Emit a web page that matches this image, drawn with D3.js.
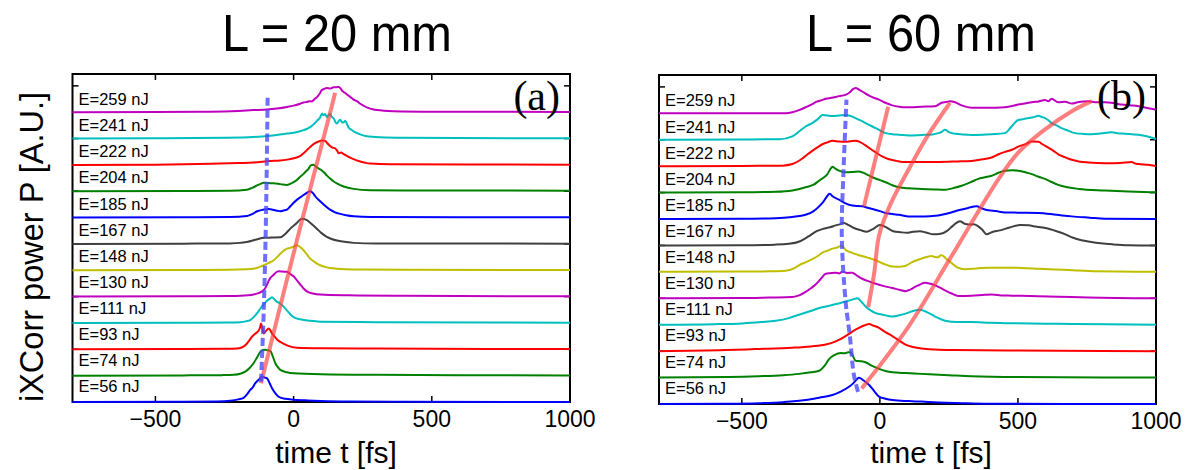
<!DOCTYPE html>
<html>
<head>
<meta charset="utf-8">
<script src="https://cdn.jsdelivr.net/npm/d3@7"></script>
<style>
  html, body { margin: 0; padding: 0; background: #fff; }
  svg { display: block; }
  text { font-family: "Liberation Sans", Arial, Helvetica, sans-serif; fill: #000; }
</style>
</head>
<body>
<svg id="chart" width="1194" height="470"></svg>
<script>
// Pulse energies, bottom trace first
const energies = [56, 74, 93, 111, 130, 148, 167, 185, 204, 222, 241, 259];
// MATLAB-style colour cycle b, g, r, c, m, y, k
const traceColors = ["#0000ff", "#008000", "#ff0000", "#00bfbf", "#bf00bf", "#bfbf00", "#404040",
                     "#0000ff", "#008000", "#ff0000", "#00bfbf", "#bf00bf"];

const xTicks = [-500, 0, 500, 1000];
const xTickLabels = ["\u2212500", "0", "500", "1000"];
const yTicks = [0, 2, 4, 6, 8, 10, 12];
const panelTitles = ["L = 20 mm", "L = 60 mm"];
const panelTags = ["(a)", "(b)"];

// Cross-correlation traces [time fs, normalised power], L = 20 mm
const tracesA = [
  [[-800,0],[-400,0.01],[-280,0.02],[-229,0.05],[-200,0.1],[-181,0.16],[-168,0.3],[-157,0.46],[-148,0.55],[-139,0.71],[-126,0.85],[-114,0.96],[-105,0.93],[-96,0.9],[-87,0.72],[-78,0.52],[-66,0.33],[-54,0.2],[-30,0.12],[0,0.09],[50,0.06],[100,0.04],[200,0.02],[400,0.01],[1000,0]],
  [[-800,0],[-400,0.01],[-260,0.02],[-217,0.03],[-190,0.08],[-175,0.15],[-160,0.28],[-145,0.47],[-132,0.7],[-120,0.91],[-111,0.97],[-102,0.98],[-93,0.96],[-84,0.94],[-75,0.72],[-66,0.47],[-57,0.32],[-48,0.22],[-24,0.13],[0,0.09],[100,0.05],[300,0.03],[600,0.02],[1000,0.01]],
  [[-800,0],[-400,0.01],[-250,0.02],[-205,0.03],[-188,0.07],[-175,0.15],[-163,0.3],[-151,0.47],[-138,0.6],[-126,0.72],[-121,0.85],[-118,0.98],[-113,0.8],[-108,0.6],[-100,0.7],[-90,0.79],[-84,0.72],[-78,0.6],[-70,0.5],[-60,0.37],[-42,0.24],[-24,0.15],[12,0.06],[100,0.04],[300,0.03],[1000,0.01]],
  [[-800,0],[-400,0.01],[-230,0.02],[-193,0.03],[-170,0.07],[-157,0.11],[-145,0.22],[-132,0.37],[-120,0.55],[-108,0.71],[-95,0.85],[-85,0.93],[-78,0.98],[-70,0.9],[-62,0.82],[-54,0.77],[-45,0.7],[-36,0.62],[-24,0.47],[-12,0.33],[0,0.22],[24,0.14],[60,0.08],[96,0.05],[300,0.03],[1000,0.01]],
  [[-800,0],[-400,0.01],[-230,0.02],[-193,0.03],[-145,0.08],[-125,0.14],[-114,0.2],[-104,0.3],[-96,0.46],[-90,0.6],[-84,0.71],[-75,0.8],[-66,0.9],[-54,0.96],[-40,0.95],[-24,0.94],[-12,0.86],[0,0.77],[12,0.62],[24,0.46],[36,0.31],[48,0.2],[70,0.12],[96,0.08],[200,0.05],[400,0.03],[1000,0.01]],
  [[-800,0],[-400,0.01],[-200,0.03],[-145,0.06],[-125,0.12],[-108,0.19],[-90,0.28],[-72,0.38],[-60,0.5],[-48,0.63],[-36,0.74],[-24,0.82],[-12,0.85],[0,0.9],[12,0.95],[24,0.88],[36,0.76],[48,0.6],[60,0.44],[78,0.3],[96,0.19],[120,0.11],[157,0.06],[217,0.03],[400,0.02],[1000,0.01]],
  [[-800,0],[-400,0.01],[-230,0.02],[-193,0.04],[-165,0.08],[-145,0.14],[-125,0.2],[-108,0.23],[-80,0.24],[-48,0.25],[-30,0.38],[-12,0.58],[10,0.78],[30,0.96],[40,0.94],[48,0.9],[66,0.75],[84,0.58],[100,0.42],[120,0.27],[140,0.18],[157,0.13],[190,0.07],[217,0.04],[300,0.02],[1000,0.01]],
  [[-800,0],[-400,0.01],[-230,0.02],[-169,0.06],[-150,0.13],[-132,0.24],[-110,0.3],[-90,0.33],[-75,0.3],[-60,0.26],[-48,0.24],[-36,0.27],[-24,0.3],[-10,0.45],[0,0.56],[15,0.7],[30,0.81],[45,0.92],[60,1.0],[70,0.93],[78,0.81],[96,0.62],[114,0.45],[132,0.3],[150,0.2],[169,0.14],[190,0.09],[217,0.05],[280,0.02],[1000,0.01]],
  [[-800,0],[-400,0.01],[-230,0.02],[-169,0.06],[-150,0.13],[-132,0.22],[-120,0.28],[-108,0.32],[-90,0.31],[-72,0.3],[-48,0.27],[-24,0.24],[-5,0.32],[12,0.43],[24,0.55],[36,0.66],[45,0.76],[54,0.85],[62,0.98],[72,1.01],[82,0.92],[90,0.87],[102,0.79],[110,0.72],[120,0.6],[132,0.48],[145,0.37],[160,0.28],[181,0.18],[217,0.09],[277,0.04],[400,0.03],[1000,0.02]],
  [[-800,0],[-500,0.01],[-300,0.04],[-200,0.07],[-145,0.09],[-84,0.15],[-50,0.17],[-24,0.2],[0,0.25],[24,0.34],[36,0.44],[48,0.56],[60,0.68],[72,0.79],[84,0.86],[96,0.91],[105,0.93],[114,0.91],[122,0.82],[132,0.72],[140,0.66],[150,0.63],[157,0.55],[163,0.44],[172,0.47],[181,0.41],[190,0.36],[199,0.3],[217,0.22],[241,0.13],[260,0.08],[277,0.05],[350,0.02],[1000,0.01]],
  [[-800,0],[-500,0.01],[-250,0.03],[-145,0.06],[-84,0.11],[-24,0.19],[10,0.24],[36,0.32],[54,0.4],[66,0.48],[76,0.58],[84,0.67],[96,0.8],[103,0.95],[108,0.88],[114,0.93],[120,0.82],[126,0.88],[132,0.93],[138,0.82],[145,0.77],[150,0.65],[157,0.57],[163,0.66],[169,0.71],[175,0.62],[181,0.61],[187,0.68],[193,0.55],[199,0.42],[208,0.34],[217,0.27],[241,0.16],[265,0.09],[313,0.05],[400,0.03],[1000,0.01]],
  [[-800,0],[-500,0.01],[-300,0.02],[-200,0.05],[-145,0.08],[-96,0.1],[-60,0.14],[-24,0.2],[0,0.25],[24,0.32],[36,0.37],[48,0.39],[60,0.42],[66,0.41],[76,0.5],[84,0.57],[94,0.7],[102,0.84],[110,0.88],[120,0.92],[132,0.9],[145,0.95],[155,0.95],[163,0.96],[170,0.9],[175,0.82],[185,0.74],[193,0.67],[205,0.58],[217,0.48],[229,0.42],[241,0.32],[253,0.25],[265,0.18],[283,0.12],[301,0.08],[361,0.04],[500,0.02],[1000,0.01]]
];

// Cross-correlation traces [time fs, normalised power], L = 60 mm
const tracesB = [
  [[-800,0],[-550,0.01],[-438,0.03],[-350,0.07],[-269,0.15],[-220,0.24],[-172,0.34],[-140,0.48],[-112,0.65],[-95,0.8],[-82,0.95],[-76,0.99],[-60,0.9],[-39,0.72],[-20,0.48],[-3,0.28],[20,0.2],[45,0.15],[105,0.11],[150,0.09],[212,0.06],[300,0.03],[393,0.01],[1000,0]],
  [[-800,0],[-550,0.02],[-438,0.05],[-350,0.09],[-293,0.14],[-250,0.2],[-220,0.26],[-200,0.45],[-184,0.7],[-165,0.85],[-142,0.93],[-125,0.92],[-115,0.96],[-106,0.96],[-97,0.8],[-88,0.64],[-70,0.62],[-52,0.58],[-30,0.45],[-3,0.33],[20,0.25],[45,0.2],[93,0.17],[150,0.14],[250,0.09],[332,0.05],[500,0.02],[1000,0]],
  [[-800,0],[-559,0.04],[-450,0.08],[-317,0.13],[-250,0.18],[-196,0.25],[-160,0.37],[-124,0.57],[-100,0.74],[-76,0.88],[-55,0.98],[-39,1.03],[-25,0.97],[-3,0.88],[20,0.72],[45,0.57],[70,0.4],[91,0.26],[120,0.16],[151,0.1],[200,0.06],[272,0.04],[500,0.02],[1000,0]],
  [[-800,0],[-600,0.02],[-498,0.05],[-430,0.1],[-377,0.15],[-330,0.25],[-293,0.38],[-250,0.52],[-220,0.63],[-190,0.7],[-172,0.75],[-150,0.8],[-124,0.88],[-100,0.95],[-82,1.0],[-68,0.88],[-52,0.69],[-35,0.55],[-15,0.44],[10,0.38],[45,0.31],[70,0.36],[93,0.42],[120,0.52],[145,0.57],[165,0.5],[188,0.38],[212,0.25],[236,0.15],[280,0.1],[332,0.1],[400,0.07],[453,0.06],[600,0.04],[695,0.03],[1000,0]],
  [[-800,0],[-500,0.01],[-400,0.03],[-317,0.05],[-290,0.12],[-269,0.24],[-250,0.38],[-233,0.52],[-215,0.72],[-196,0.93],[-180,0.95],[-160,0.97],[-148,0.94],[-136,1.0],[-118,0.96],[-100,0.97],[-82,0.85],[-64,0.74],[-40,0.64],[-15,0.55],[15,0.46],[45,0.39],[70,0.32],[93,0.27],[110,0.33],[127,0.43],[145,0.52],[163,0.59],[180,0.56],[200,0.49],[218,0.4],[236,0.3],[260,0.18],[284,0.09],[332,0.1],[380,0.13],[405,0.14],[440,0.11],[477,0.1],[574,0.08],[650,0.06],[755,0.03],[1000,0]],
  [[-800,0],[-500,0.01],[-400,0.02],[-341,0.04],[-310,0.14],[-293,0.25],[-270,0.36],[-245,0.48],[-225,0.6],[-208,0.73],[-190,0.8],[-172,0.88],[-155,0.92],[-142,0.98],[-130,0.9],[-124,0.83],[-100,0.72],[-76,0.63],[-45,0.54],[-15,0.44],[15,0.3],[45,0.2],[70,0.19],[91,0.22],[115,0.36],[139,0.46],[165,0.55],[188,0.6],[200,0.56],[212,0.55],[218,0.62],[224,0.63],[240,0.5],[260,0.33],[280,0.17],[308,0.1],[350,0.13],[393,0.16],[450,0.16],[513,0.15],[574,0.12],[634,0.09],[700,0.06],[755,0.03],[1000,0]],
  [[-800,0],[-500,0.01],[-380,0.03],[-330,0.06],[-289,0.16],[-260,0.33],[-229,0.54],[-205,0.63],[-181,0.69],[-160,0.76],[-140,0.82],[-133,0.86],[-115,0.78],[-96,0.67],[-70,0.58],[-48,0.52],[-25,0.62],[0,0.77],[20,0.7],[48,0.54],[75,0.5],[97,0.48],[120,0.52],[145,0.54],[170,0.48],[193,0.42],[220,0.44],[242,0.54],[265,0.75],[290,0.92],[305,0.83],[315,0.8],[326,0.79],[340,0.8],[355,0.73],[370,0.6],[387,0.42],[405,0.5],[435,0.57],[470,0.68],[507,0.77],[540,0.76],[555,0.73],[600,0.66],[640,0.54],[670,0.43],[700,0.29],[730,0.2],[761,0.14],[800,0.08],[845,0.04],[900,0.01],[1000,0]],
  [[-800,0],[-500,0.01],[-377,0.03],[-317,0.08],[-269,0.16],[-240,0.3],[-220,0.48],[-205,0.65],[-196,0.79],[-182,0.96],[-170,0.85],[-148,0.73],[-130,0.62],[-112,0.54],[-90,0.5],[-64,0.48],[-45,0.43],[-27,0.38],[0,0.3],[21,0.23],[45,0.19],[69,0.16],[105,0.1],[163,0.1],[200,0.12],[224,0.16],[255,0.24],[284,0.33],[320,0.42],[350,0.48],[370,0.4],[393,0.33],[420,0.3],[453,0.25],[500,0.24],[574,0.23],[640,0.16],[695,0.1],[760,0.05],[815,0.01],[1000,0]],
  [[-800,0],[-500,0.01],[-377,0.03],[-317,0.08],[-269,0.2],[-240,0.3],[-220,0.45],[-200,0.6],[-190,0.7],[-180,0.88],[-172,0.98],[-160,0.9],[-148,0.83],[-124,0.77],[-100,0.78],[-76,0.8],[-50,0.7],[-27,0.58],[0,0.47],[21,0.39],[45,0.28],[69,0.2],[105,0.16],[151,0.14],[200,0.12],[236,0.11],[270,0.18],[296,0.26],[330,0.4],[356,0.52],[380,0.58],[405,0.64],[430,0.75],[453,0.83],[480,0.85],[501,0.83],[530,0.76],[550,0.7],[575,0.6],[598,0.52],[620,0.41],[646,0.29],[680,0.2],[719,0.14],[815,0.08],[900,0.04],[1000,0.01]],
  [[-800,0],[-500,0.01],[-353,0.02],[-317,0.08],[-281,0.29],[-263,0.44],[-245,0.58],[-225,0.72],[-208,0.83],[-190,0.9],[-172,0.96],[-148,0.93],[-124,0.92],[-106,0.94],[-88,0.96],[-70,0.9],[-52,0.79],[-35,0.66],[-15,0.52],[10,0.36],[33,0.26],[60,0.2],[81,0.16],[150,0.16],[212,0.16],[280,0.18],[332,0.2],[370,0.26],[405,0.33],[430,0.45],[453,0.54],[480,0.63],[501,0.74],[530,0.84],[550,0.93],[574,0.92],[590,0.82],[610,0.7],[630,0.57],[646,0.45],[670,0.34],[695,0.24],[720,0.18],[755,0.14],[815,0.11],[870,0.12],[912,0.16],[925,0.1],[936,0.08],[970,0.05],[1000,0.01]],
  [[-800,0],[-500,0.01],[-365,0.02],[-317,0.13],[-293,0.31],[-269,0.5],[-245,0.63],[-225,0.78],[-208,0.94],[-190,0.92],[-172,0.9],[-148,0.92],[-124,0.94],[-106,0.9],[-88,0.82],[-70,0.73],[-52,0.63],[-33,0.53],[-15,0.44],[21,0.25],[45,0.21],[69,0.19],[105,0.16],[151,0.18],[190,0.2],[212,0.25],[224,0.3],[236,0.38],[248,0.3],[260,0.25],[300,0.2],[332,0.18],[370,0.19],[405,0.21],[453,0.25],[477,0.5],[501,0.75],[520,0.78],[538,0.82],[555,0.85],[574,0.91],[586,0.86],[598,0.82],[610,0.74],[622,0.63],[640,0.54],[658,0.44],[680,0.35],[707,0.25],[740,0.22],[767,0.21],[800,0.24],[839,0.28],[860,0.25],[888,0.23],[936,0.19],[970,0.12],[1000,0.03]],
  [[-800,0],[-500,0],[-341,0],[-317,0.04],[-293,0.12],[-269,0.23],[-245,0.35],[-233,0.42],[-210,0.5],[-196,0.55],[-170,0.6],[-148,0.65],[-125,0.7],[-112,0.77],[-95,0.93],[-88,0.96],[-76,0.9],[-60,0.8],[-39,0.67],[-20,0.58],[-3,0.52],[20,0.4],[45,0.3],[70,0.25],[93,0.23],[151,0.25],[200,0.27],[224,0.4],[240,0.43],[254,0.46],[272,0.42],[296,0.3],[332,0.21],[393,0.21],[453,0.23],[501,0.33],[530,0.38],[550,0.42],[575,0.45],[598,0.5],[610,0.46],[622,0.55],[646,0.42],[670,0.44],[695,0.37],[720,0.43],[755,0.46],[785,0.42],[815,0.42],[850,0.38],[876,0.33],[910,0.3],[936,0.27],[960,0.22],[984,0.17],[1000,0.14]]
];

// Guide lines [time fs, trace level]
const dashedA = [[-118,0.77],[-108,3.5],[-100,7],[-94,11.55]];
const ridgesA = [
  [[-118,0.71],[18,6.39],[140,11.3],[150,11.74]]
];
const dashedB = [[-79,0.46],[-94,1.09],[-109,2.6],[-124,3.86],[-138,6.37],[-132,8.75],[-121,11.52]];
const ridgesB = [
  [[-58,7.47],[30,11.25]],
  [[-42,3.67],[-20,5.0],[-3,6.38],[40,7.6],[100,8.8],[170,10.1],[254,11.4]],
  [[-66,0.59],[105,2.95],[254,5.5],[429,8.5],[501,9.51],[598,10.39],[695,11.08],[767,11.46]]
];

const svg = d3.select("#chart");

const panels = [
  { left: 72.5, right: 570, top: 74, bottom: 402, traces: tracesA, dashed: dashedA, ridges: ridgesA,
    title: panelTitles[0], tag: panelTags[0], titleX: 337, xLabelX: 336, showYLabel: true },
  { left: 659, right: 1156, top: 75, bottom: 404, traces: tracesB, dashed: dashedB, ridges: ridgesB,
    title: panelTitles[1], tag: panelTags[1], titleX: 921, xLabelX: 931, showYLabel: false }
];

panels.forEach(p => {
  const x = d3.scaleLinear().domain([-800, 1000]).range([p.left, p.right]);
  const y = d3.scaleLinear().domain([0, 12.45]).range([p.bottom, p.top]);
  const g = svg.append("g");

  // Title
  g.append("text")
    .attr("x", p.titleX).attr("y", 51)
    .attr("text-anchor", "middle")
    .style("font-size", "52px")
    .attr("textLength", 230).attr("lengthAdjust", "spacingAndGlyphs")
    .text(p.title);

  // Frame
  g.append("rect")
    .attr("x", p.left).attr("y", p.top)
    .attr("width", p.right - p.left).attr("height", p.bottom - p.top)
    .attr("fill", "none").attr("stroke", "#000").attr("stroke-width", 2);

  // Inward ticks on all four sides
  const tickLen = 6;
  xTicks.forEach(t => {
    g.append("line").attr("x1", x(t)).attr("x2", x(t))
      .attr("y1", p.bottom).attr("y2", p.bottom - tickLen)
      .attr("stroke", "#000").attr("stroke-width", 1.5);
    g.append("line").attr("x1", x(t)).attr("x2", x(t))
      .attr("y1", p.top).attr("y2", p.top + tickLen)
      .attr("stroke", "#000").attr("stroke-width", 1.5);
  });
  yTicks.forEach(v => {
    g.append("line").attr("x1", p.left).attr("x2", p.left + tickLen)
      .attr("y1", y(v)).attr("y2", y(v))
      .attr("stroke", "#000").attr("stroke-width", 1.5);
    g.append("line").attr("x1", p.right).attr("x2", p.right - tickLen)
      .attr("y1", y(v)).attr("y2", y(v))
      .attr("stroke", "#000").attr("stroke-width", 1.5);
  });

  // Tick labels
  xTicks.forEach((t, i) => {
    g.append("text")
      .attr("x", x(t)).attr("y", p.bottom + 25)
      .attr("text-anchor", "middle")
      .style("font-size", "23px")
      .text(xTickLabels[i]);
  });

  // Axis labels
  g.append("text")
    .attr("x", p.xLabelX).attr("y", 463)
    .attr("text-anchor", "middle")
    .style("font-size", "30px")
    .text("time t [fs]");
  if (p.showYLabel) {
    g.append("text")
      .attr("transform", "translate(43,247) rotate(-90)")
      .attr("text-anchor", "middle")
      .style("font-size", "32.5px")
      .text("iXCorr power P [A.U.]");
  }

  // Stacked traces, each offset by one level
  p.traces.forEach((tr, i) => {
    const line = d3.line()
      .x(d => x(d[0]))
      .y(d => y(i + d[1]))
      .curve(d3.curveMonotoneX);
    g.append("path")
      .datum(tr)
      .attr("d", line)
      .attr("fill", "none")
      .attr("stroke", traceColors[i])
      .attr("stroke-width", 2)
      .attr("stroke-linejoin", "round");
  });

  // Energy labels
  energies.forEach((e, i) => {
    g.append("text")
      .attr("x", p.left + 6)
      .attr("y", y(0.39 + i * 0.988))
      .style("font-size", "16.5px")
      .text("E=" + e + " nJ");
  });

  // Guide curves
  const guide = d3.line().x(d => x(d[0])).y(d => y(d[1])).curve(d3.curveCatmullRom);
  p.ridges.forEach(r => {
    g.append("path").datum(r).attr("d", guide)
      .attr("fill", "none")
      .attr("stroke", "#ff3b3b").attr("stroke-opacity", 0.65)
      .attr("stroke-width", 4).attr("stroke-linecap", "butt");
  });
  g.append("path").datum(p.dashed).attr("d", guide)
    .attr("fill", "none")
    .attr("stroke", "#4a4aff").attr("stroke-opacity", 0.8)
    .attr("stroke-width", 4)
    .attr("stroke-dasharray", "8,4");

  // Panel tag
  g.append("text")
    .attr("x", p.right - 10).attr("y", 110)
    .attr("text-anchor", "end")
    .style("font-family", "'Liberation Serif', 'Times New Roman', serif")
    .style("font-size", "42px")
    .text(p.tag);
});
</script>
</body>
</html>
